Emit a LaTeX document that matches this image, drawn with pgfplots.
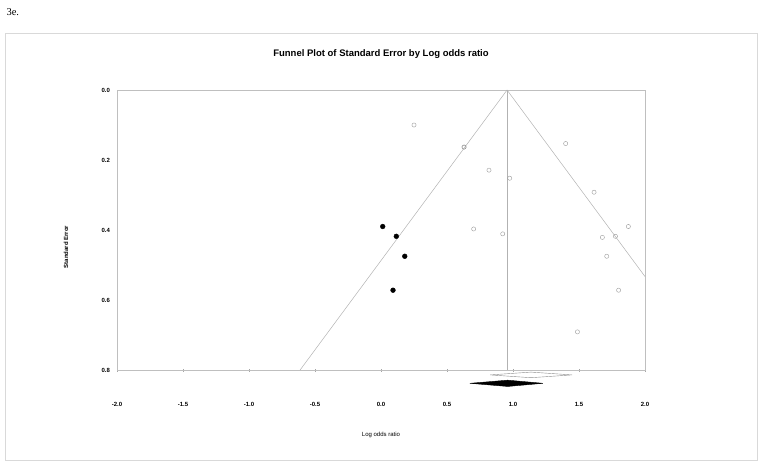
\documentclass[border=0pt]{standalone}
\usepackage{fontspec}
\setmainfont{Liberation Sans}
\newfontfamily\timesfont{Liberation Serif}
\usepackage{pgfplots}
\pgfplotsset{compat=1.18}
\begin{document}
\begin{tikzpicture}[x=1pt,y=1pt]
  % page and outer frame (1pt = 1px of the reference)
  \path (0,0) rectangle (762,467);
  \draw[black!15, line width=0.8pt] (5,7) rectangle (757,434);
  \node[anchor=west, font=\timesfont\fontsize{10.5}{12}\selectfont] at (3,455) {3e.};
  \begin{axis}[
      at={(117pt,97pt)}, anchor=south west,
      scale only axis,
      width=528pt, height=280pt,
      xmin=-2, xmax=2, ymin=0, ymax=0.8,
      y dir=reverse,
      clip=false,
      axis line style={black!25, line width=0.6pt},
      xtick={-2,-1.5,...,2},
      ytick={0,0.2,0.4,0.6,0.8},
      xtick pos=bottom, tick align=center,
      major tick length=3pt,
      xtick style={black!35},
      ytick style={draw=none},
      /pgf/number format/.cd, fixed, fixed zerofill, precision=1, assume math mode=true,
      /pgfplots/.cd,
      ticklabel style={font=\bfseries\fontsize{6}{7}\selectfont},
      xticklabel style={anchor=center, yshift=-33pt},
      yticklabel style={anchor=east, xshift=-2pt},
      title={Funnel Plot of Standard Error by Log odds ratio},
      title style={at={(axis description cs:0.5,1.107)}, anchor=center,
        font=\bfseries\fontsize{9.5}{11}\selectfont},
      xlabel={Log odds ratio},
      xlabel style={at={(axis description cs:0.5,-0.232)}, anchor=center,
        font=\fontsize{6}{7}\selectfont},
      ylabel={Standard Error},
      ylabel style={at={(axis description cs:-0.0966,0.439)}, anchor=center,
        font=\bfseries\fontsize{6}{7}\selectfont},
    ]
    % funnel
    \addplot[black!30, line width=0.5pt] coordinates {(-0.613,0.8) (0.955,0) (2.0,0.533)};
    \addplot[black!30, line width=0.5pt] coordinates {(0.955,0) (0.955,0.8)};
    % observed studies
    \addplot[only marks, mark=o, mark size=2.1pt, black!40, mark options={line width=0.4pt}]
      coordinates {
        (0.25,0.100) (0.629,0.163) (0.629,0.163) (0.818,0.229) (0.975,0.252)
        (0.702,0.397) (0.922,0.411)
        (1.399,0.153) (1.614,0.292) (1.874,0.390) (1.677,0.421) (1.776,0.418)
        (1.710,0.475) (1.800,0.572) (1.488,0.691)
      };
    % imputed studies
    \addplot[only marks, mark=*, mark size=2.4pt, black]
      coordinates {(0.013,0.390) (0.116,0.418) (0.180,0.475) (0.091,0.572)};
    % summary diamonds
    \addplot[black!45, line width=0.4pt, fill=white]
      coordinates {(0.826,0.814) (1.136,0.806) (1.447,0.814) (1.136,0.822) (0.826,0.814)};
    \addplot[black, fill=black]
      coordinates {(0.674,0.838) (0.960,0.829) (1.227,0.838) (0.960,0.847) (0.674,0.838)};
  \end{axis}
\end{tikzpicture}
\end{document}
